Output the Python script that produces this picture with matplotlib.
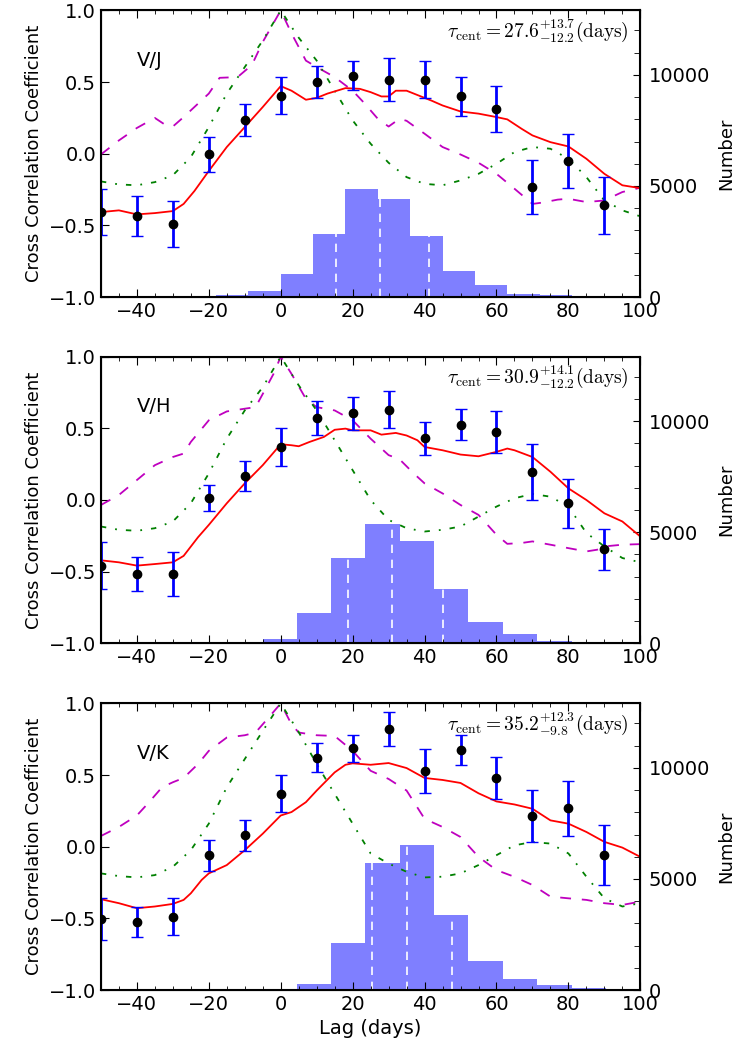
import matplotlib
matplotlib.use("Agg")

import matplotlib.pyplot as plt
from matplotlib.ticker import MultipleLocator

plt.rcParams["mathtext.fontset"] = "cm"
plt.rcParams["font.family"] = ["DejaVu Sans"]

# ---- data ----
point_lag = [-50, -40, -30, -20, -10, 0, 10, 20, 30, 40, 50, 60, 70, 80, 90]

vj_points = [-0.407, -0.435, -0.493, -0.005, 0.237, 0.405, 0.502, 0.544, 0.516, 0.516, 0.40, 0.312, -0.233, -0.053, -0.36]
vj_errors = [0.16, 0.14, 0.16, 0.122, 0.11, 0.13, 0.11, 0.10, 0.15, 0.128, 0.135, 0.16, 0.187, 0.188, 0.198]

vh_points = [-0.458, -0.516, -0.516, 0.016, 0.169, 0.37, 0.572, 0.604, 0.63, 0.43, 0.525, 0.475, 0.194, -0.023, -0.343]
vh_errors = [0.166, 0.118, 0.152, 0.09, 0.104, 0.135, 0.12, 0.113, 0.131, 0.117, 0.109, 0.148, 0.195, 0.169, 0.144]

vk_points = [-0.505, -0.528, -0.487, -0.061, 0.08, 0.371, 0.621, 0.688, 0.82, 0.528, 0.672, 0.477, 0.212, 0.267, -0.059]
vk_errors = [0.148, 0.104, 0.127, 0.11, 0.108, 0.13, 0.10, 0.094, 0.119, 0.156, 0.105, 0.146, 0.182, 0.194, 0.21]

# red solid curves
vj_red_lag = [-50, -45, -40, -35, -30, -27, -24, -20, -15, -10, -5, 0, 3, 7, 10, 13, 18, 22, 25, 28,
              30, 32, 35, 38, 42, 45, 50, 55, 60, 63, 67, 70, 75, 80, 85, 90, 95, 100]
vj_red = [-0.407, -0.395, -0.423, -0.414, -0.40, -0.35, -0.26, -0.12, 0.047, 0.186, 0.326, 0.472, 0.44, 0.377,
          0.39, 0.42, 0.458, 0.453, 0.43, 0.40, 0.40, 0.44, 0.44, 0.41, 0.37, 0.337, 0.295, 0.28, 0.256, 0.24,
          0.174, 0.128, 0.081, 0.051, -0.035, -0.14, -0.22, -0.24]

vh_red_lag = [-50, -45, -40, -35, -30, -27, -23, -20, -15, -10, -5, 0, 3, 5, 8, 12, 15, 18, 20, 25,
              28, 32, 35, 38, 40, 45, 50, 55, 60, 63, 65, 70, 75, 80, 85, 90, 95, 100]
vh_red = [-0.421, -0.435, -0.458, -0.447, -0.435, -0.39, -0.26, -0.174, -0.023, 0.116, 0.243, 0.389, 0.382,
          0.375, 0.405, 0.44, 0.49, 0.498, 0.486, 0.486, 0.456, 0.468, 0.45, 0.417, 0.37, 0.347, 0.317, 0.305,
          0.336, 0.359, 0.347, 0.30, 0.197, 0.081, 0.0, -0.093, -0.15, -0.255]

vk_red_lag = [-50, -45, -40, -35, -30, -27, -25, -22, -20, -15, -10, -5, 0, 3, 7, 10, 15, 18, 20, 25,
              30, 35, 40, 45, 50, 55, 60, 65, 70, 75, 80, 85, 90, 95, 100]
vk_red = [-0.366, -0.394, -0.429, -0.417, -0.399, -0.371, -0.325, -0.232, -0.186, -0.128, -0.024, 0.091, 0.218,
          0.242, 0.311, 0.392, 0.519, 0.572, 0.582, 0.572, 0.584, 0.549, 0.48, 0.466, 0.445, 0.373, 0.316,
          0.295, 0.265, 0.184, 0.161, 0.103, 0.034, -0.006, -0.071]

# magenta dashed curves
vj_mag_lag = [-50, -45, -40, -35, -32, -30, -27, -20, -17, -12, -8, -5, 0, 3, 7, 10, 15, 20, 23, 27,
              30, 33, 35, 40, 45, 50, 55, 60, 65, 70, 73, 77, 80, 85, 90, 95, 100]
vj_mag = [-0.005, 0.093, 0.18, 0.25, 0.20, 0.19, 0.256, 0.42, 0.53, 0.535, 0.62, 0.78, 1.0, 0.84, 0.65, 0.605,
          0.535, 0.44, 0.36, 0.244, 0.19, 0.244, 0.23, 0.14, 0.047, -0.005, -0.063, -0.14, -0.244, -0.35,
          -0.34, -0.32, -0.314, -0.337, -0.326, -0.267, -0.237]

vh_mag_lag = [-50, -45, -40, -35, -30, -27, -25, -20, -15, -10, -7, -5, -2, 0, 3, 7, 10, 15, 20, 25,
              30, 33, 37, 40, 45, 50, 55, 60, 63, 67, 70, 75, 80, 85, 88, 90, 95, 100]
vh_mag = [-0.035, 0.035, 0.139, 0.243, 0.30, 0.324, 0.405, 0.556, 0.618, 0.637, 0.648, 0.74, 0.88, 1.0, 0.88,
          0.706, 0.648, 0.625, 0.556, 0.428, 0.313, 0.285, 0.185, 0.116, 0.046, -0.035, -0.104, -0.243,
          -0.306, -0.30, -0.289, -0.312, -0.336, -0.359, -0.347, -0.324, -0.312, -0.308]

vk_mag_lag = [-50, -45, -40, -37, -33, -30, -27, -23, -20, -15, -10, -7, -3, 0, 3, 5, 10, 15, 20, 25,
              30, 35, 40, 45, 50, 55, 60, 65, 70, 75, 80, 85, 90, 95, 100]
vk_mag = [0.075, 0.138, 0.218, 0.30, 0.415, 0.45, 0.48, 0.577, 0.669, 0.762, 0.778, 0.797, 0.912, 1.0, 0.854,
          0.797, 0.778, 0.773, 0.669, 0.53, 0.473, 0.392, 0.195, 0.138, 0.068, -0.071, -0.163, -0.21, -0.267,
          -0.348, -0.36, -0.371, -0.394, -0.406, -0.383]

# green dash-dot curves
green_lag = [-50, -45, -40, -35, -30, -25, -20, -15, -10, -5, 0, 5, 10, 15, 20, 25, 30, 35, 40, 45,
             50, 55, 60, 65, 70, 75, 80, 85, 90, 95, 100]
vj_green = [-0.193, -0.214, -0.22, -0.198, -0.15, -0.023, 0.186, 0.42, 0.605, 0.79, 1.0, 0.81, 0.65, 0.44,
            0.233, 0.07, -0.063, -0.163, -0.21, -0.22, -0.186, -0.14, -0.07, 0.012, 0.047, 0.035, -0.035,
            -0.163, -0.326, -0.395, -0.437]
vh_green = [-0.185, -0.208, -0.215, -0.197, -0.15, -0.023, 0.185, 0.428, 0.625, 0.787, 1.0, 0.80, 0.625, 0.417,
            0.208, 0.0, -0.139, -0.197, -0.22, -0.208, -0.185, -0.116, -0.046, 0.012, 0.042, 0.023, -0.046,
            -0.23, -0.324, -0.405, -0.435]
vk_green = [-0.186, -0.205, -0.214, -0.198, -0.14, -0.024, 0.161, 0.415, 0.612, 0.808, 1.0, 0.80, 0.577, 0.369,
            0.161, -0.047, -0.117, -0.175, -0.214, -0.209, -0.186, -0.128, -0.059, 0.01, 0.033, 0.022, -0.047,
            -0.209, -0.36, -0.417, -0.394]

# centroid distributions
vj_hist_edges = [-18, -9, 0, 9, 18, 27, 36, 45, 54, 63, 72, 81, 90]
vj_hist_counts = [90, 257, 1057, 2825, 4880, 4396, 2734, 1163, 529, 151, 91, 45]
vh_hist_edges = [-5.0, 4.5, 14.0, 23.5, 33.1, 42.7, 52.2, 61.8, 71.3, 80.9, 90.4]
vh_hist_counts = [210, 1350, 3823, 5352, 4618, 2429, 975, 420, 90, 10]
vk_hist_edges = [-5.0, 4.5, 14.0, 23.5, 33.1, 42.7, 52.2, 61.8, 71.3, 80.9, 90.4]
vk_hist_counts = [60, 285, 2100, 5727, 6522, 3358, 1304, 480, 225, 90]

band_labels = ["V/J", "V/H", "V/K"]
tau_cent = [27.6, 30.9, 35.2]
tau_upper = [13.7, 14.1, 12.3]
tau_lower = [12.2, 12.2, 9.8]

panels = [
    (vj_points, vj_errors, vj_red_lag, vj_red, vj_mag_lag, vj_mag, vj_green, vj_hist_edges, vj_hist_counts),
    (vh_points, vh_errors, vh_red_lag, vh_red, vh_mag_lag, vh_mag, vh_green, vh_hist_edges, vh_hist_counts),
    (vk_points, vk_errors, vk_red_lag, vk_red, vk_mag_lag, vk_mag, vk_green, vk_hist_edges, vk_hist_counts),
]

fig = plt.figure(figsize=(7.42, 10.46), dpi=100)
fig.patch.set_facecolor("white")

left, width = 0.136, 0.727
bottoms = [0.716, 0.385, 0.0535]
height = 0.274

for i, (pts, errs, r_lag, r_val, m_lag, m_val, g_val, h_edges, h_counts) in enumerate(panels):
    ax = fig.add_axes([left, bottoms[i], width, height])
    axh = ax.twinx()

    # histogram of centroid lags on the right axis (drawn behind)
    widths = [h_edges[j + 1] - h_edges[j] for j in range(len(h_counts))]
    axh.bar(h_edges[:-1], h_counts, width=widths, align="edge", color="blue", alpha=0.5, linewidth=0)
    for v in (tau_cent[i] - tau_lower[i], tau_cent[i], tau_cent[i] + tau_upper[i]):
        k = max(j for j in range(len(h_counts)) if h_edges[j] <= v)
        axh.vlines(v, 0, h_counts[k], colors="white", linestyles=(0, (5, 4)), linewidth=1.2)
    axh.set_ylim(0, 12900)
    axh.yaxis.set_major_locator(MultipleLocator(5000))
    axh.yaxis.set_minor_locator(MultipleLocator(1000))
    axh.tick_params(axis="y", which="both", direction="in", labelsize=14, pad=6)
    axh.tick_params(axis="y", which="major", length=5)
    axh.tick_params(axis="y", which="minor", length=4)
    axh.set_ylabel("Number", fontsize=13, labelpad=5)

    ax.set_zorder(axh.get_zorder() + 1)
    ax.patch.set_visible(False)

    ax.plot(m_lag, m_val, color="m", linestyle=(0, (6, 6)), linewidth=1.3)
    ax.plot(green_lag, g_val, color="g", linestyle=(0, (3, 5, 1, 5)), linewidth=1.3)
    ax.plot(r_lag, r_val, color="r", linewidth=1.3)
    ax.errorbar(point_lag, pts, yerr=errs, fmt="o", color="k", markersize=6,
                ecolor="blue", elinewidth=2, capsize=4, capthick=1)

    ax.set_xlim(-50, 100)
    ax.set_ylim(-1.0, 1.0)
    ax.xaxis.set_major_locator(MultipleLocator(20))
    ax.xaxis.set_minor_locator(MultipleLocator(5))
    ax.yaxis.set_major_locator(MultipleLocator(0.5))
    ax.tick_params(axis="both", which="both", direction="in", top=True, right=False, labelsize=14)
    ax.tick_params(axis="both", which="major", length=6)
    ax.tick_params(axis="both", which="minor", length=3)
    ax.set_ylabel("Cross Correlation Coefficient", fontsize=13)
    for sp in ax.spines.values():
        sp.set_linewidth(1.5)

    ax.text(-40, 0.65, band_labels[i], fontsize=14, ha="left", va="center")
    label = (r"$\tau_{\rm cent}=%.1f^{+%.1f}_{-%.1f}{\rm (days)}$"
             % (tau_cent[i], tau_upper[i], tau_lower[i]))
    ax.text(0.978, 0.93, label, transform=ax.transAxes, fontsize=14, ha="right", va="center")

    if i == 2:
        ax.set_xlabel("Lag (days)", fontsize=14)

fig.savefig("out.png", dpi=100, facecolor="white")
